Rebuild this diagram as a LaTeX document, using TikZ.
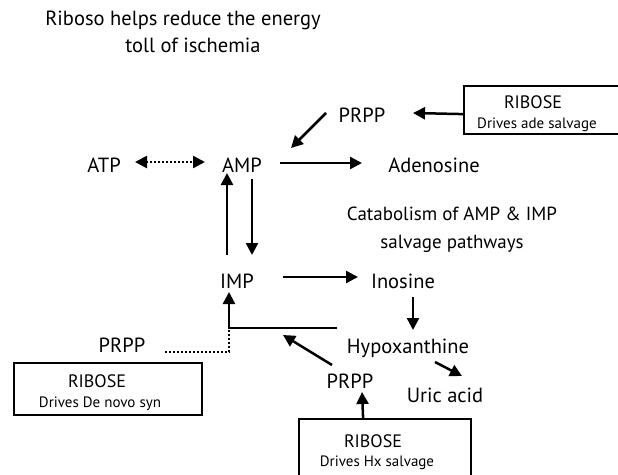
\documentclass[tikz,border=0pt]{standalone}
\usepackage{fontspec}
\setmainfont{PT Sans}
\usetikzlibrary{arrows.meta}

\begin{document}
\begin{tikzpicture}[x=1pt,y=-1pt,
    lbl/.style={anchor=base,inner sep=0pt,font=\fontsize{20.5}{24}\selectfont},
    big/.style={anchor=base,inner sep=0pt,font=\fontsize{18}{22}\selectfont},
    small/.style={anchor=base,inner sep=0pt,font=\fontsize{15}{18}\selectfont},
    box/.style={draw,line width=2.2pt,anchor=north west,inner sep=0pt},
    arr/.style={line width=2.5pt,-{Triangle[length=12pt,width=12pt]}},
    dots/.style={line width=2.5pt,dash pattern=on 2pt off 2pt}]
  \useasboundingbox (0,0) rectangle (618,474);
  \node[lbl] (title1) at (183,25) {Riboso helps reduce the energy};
  \node[lbl] (title2) at (193,52) {toll of ischemia};
  \node[lbl] (prppA) at (362,122) {PRPP};
  \node[lbl] (atp) at (104,172) {ATP};
  \node[lbl] (amp) at (242,172) {AMP};
  \node[lbl] (aden) at (434,172) {Adenosine};
  \node[lbl,font=\fontsize{19}{22}\selectfont] (cat1) at (452,220) {Catabolism of AMP \& IMP};
  \node[lbl,font=\fontsize{19}{22}\selectfont] (cat2) at (452,248) {salvage pathways};
  \node[lbl] (imp) at (237,288) {IMP};
  \node[lbl] (ino) at (403,288) {Inosine};
  \node[lbl] (hypo) at (408,353) {Hypoxanthine};
  \node[lbl] (prppC) at (122,352) {PRPP};
  \node[lbl] (prppB) at (350,388) {PRPP};
  \node[lbl] (uric) at (445,402) {Uric acid};
  \node[box,minimum width=162,minimum height=48] (boxA) at (463,85) {};
  \node[big] (ribA) at (533,108) {RIBOSE};
  \node[small] (drvA) at (537,128) {Drives ade salvage};
  \node[box,minimum width=188,minimum height=52] (boxC) at (13,362) {};
  \node[big] (ribC) at (97,387) {RIBOSE};
  \node[small] (drvC) at (100,407) {Drives De novo syn};
  \node[box,minimum width=172,minimum height=62] (boxB) at (298,418) {};
  \node[big] (ribB) at (373,447) {RIBOSE};
  \node[small] (drvB) at (377,466) {Drives Hx salvage};
  \draw[arr] ([shift={(0,4)}]boxA.west) -- ([shift={(51,-9)}]prppA.base);
  \draw[arr] ([shift={(-36,-9)}]prppA.base) -- ([shift={(49,-24)}]amp.base);
  \draw[arr] ([shift={(38,-9)}]amp.base) -- ([shift={(-72,-9)}]aden.base);
  \draw[dots,{Triangle[length=12pt,width=12pt]}-{Triangle[length=12pt,width=12pt]}]
    ([shift={(31,-10)}]atp.base) -- ([shift={(-37,-10)}]amp.base);
  \draw[arr] ([shift={(-10,-33)}]imp.base) -- ([shift={(-15,1)}]amp.base);
  \draw[arr] ([shift={(10,7)}]amp.base) -- ([shift={(15,-33)}]imp.base);
  \draw[arr] ([shift={(46,-11)}]imp.base) -- ([shift={(-45,-11)}]ino.base);
  \draw[arr] ([shift={(10,9)}]ino.base) -- ([shift={(5,-23)}]hypo.base);
  \draw[arr] ([shift={(-71,-25)}]hypo.base) -| ([shift={(-8,4)}]imp.base);
  \draw[dots] ([shift={(43,0)}]prppC.base) -| ([shift={(-8,40)}]imp.base);
  \draw[arr] ([shift={(-18,-23)}]prppB.base) -- ([shift={(46,47)}]imp.base);
  \draw[arr] ([shift={(27,9)}]hypo.base) -- ([shift={(17,-26)}]uric.base);
  \draw[arr] ([shift={(-22,0)}]boxB.north) -- ([shift={(12,4)}]prppB.base);
\end{tikzpicture}
\end{document}
